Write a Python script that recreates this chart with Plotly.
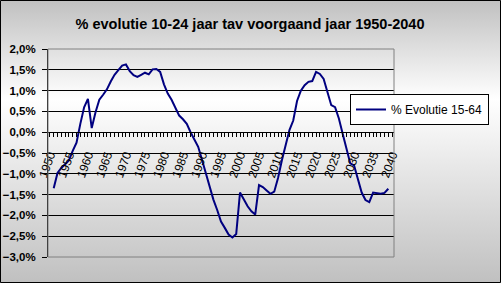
import base64
import plotly.graph_objects as go

years = list(range(1951, 2040))
evolutie_15_64 = [
    -1.35, -0.98, -0.86, -0.78, -0.68, -0.45, -0.25, 0.20, 0.60, 0.80,   # 1951-1960
    0.10, 0.48, 0.78, 0.90, 1.03, 1.22, 1.38, 1.49, 1.60, 1.63,          # 1961-1970
    1.47, 1.37, 1.33, 1.38, 1.43, 1.39, 1.51, 1.52, 1.45, 1.15,          # 1971-1980
    0.93, 0.78, 0.58, 0.40, 0.31, 0.20, 0.00, -0.18, -0.35, -0.66,       # 1981-1990
    -0.98, -1.35, -1.62, -1.87, -2.15, -2.30, -2.46, -2.53, -2.45, -1.45, # 1991-2000
    -1.62, -1.78, -1.90, -1.98, -1.27, -1.32, -1.40, -1.48, -1.43, -1.10, # 2001-2010
    -0.68, -0.32, 0.05, 0.28, 0.75, 1.00, 1.13, 1.21, 1.23, 1.45,        # 2011-2020
    1.40, 1.28, 0.98, 0.65, 0.60, 0.33, -0.04, -0.43, -0.75, -0.80,      # 2021-2030
    -1.12, -1.45, -1.63, -1.68, -1.45, -1.47, -1.48, -1.46, -1.36,       # 2031-2039
]
tick_years = list(range(1950, 2041))
tick_labels = [str(y) if y % 5 == 0 else "" for y in tick_years]
series_name = "% Evolutie 15-64"
title_text = "% evolutie 10-24 jaar tav voorgaand jaar 1950-2040"

W, H = 501, 283
L, R, T, B = 48, 107, 49, 26
pw, ph = W - L - R, H - T - B

svg = (
    f'<svg xmlns="http://www.w3.org/2000/svg" width="{W}" height="{H}" preserveAspectRatio="none">'
    '<defs><linearGradient id="g" x1="0" y1="0" x2="0" y2="1">'
    '<stop offset="0" stop-color="#c0c0c0"/><stop offset="0.35" stop-color="#ffffff"/>'
    '<stop offset="1" stop-color="#c0c0c0"/></linearGradient></defs>'
    f'<rect width="{W}" height="{H}" fill="url(#g)"/></svg>'
)
src = "data:image/svg+xml;base64," + base64.b64encode(svg.encode()).decode()

fig = go.Figure()
fig.add_trace(go.Scatter(x=years, y=evolutie_15_64, mode="lines", name=series_name,
                         line=dict(color="#000080", width=2)))

fig.update_layout(
    width=W, height=H,
    margin=dict(l=L, r=R, t=T, b=B, autoexpand=False),
    paper_bgcolor="#c0c0c0",
    plot_bgcolor="#c0c0c0",
    separators=",.",
    font=dict(family="Liberation Sans, Arial", color="black"),
    title=dict(text=title_text, x=250 / W, xanchor="center", y=1 - 24 / H, yanchor="middle",
               font=dict(size=14.5, weight="bold", family="Liberation Sans, Arial")),
    showlegend=True,
    legend=dict(x=(350 - L) / pw, y=(H - B - 94) / ph, xanchor="left", yanchor="top",
                bgcolor="white", bordercolor="black", borderwidth=1,
                font=dict(size=12, family="Liberation Sans, Arial"),
                tracegroupgap=0),
    images=[dict(source=src, xref="paper", yref="paper", x=-L / pw, y=1 + T / ph,
                 sizex=W / pw, sizey=H / ph, xanchor="left", yanchor="top",
                 sizing="stretch", layer="below")],
    shapes=[
        dict(type="rect", xref="paper", yref="paper", x0=0, x1=1, y0=0, y1=1,
             line=dict(color="#808080", width=1), layer="above"),
        dict(type="rect", xref="paper", yref="paper",
             x0=(0.5 - L) / pw, x1=(W - 0.5 - L) / pw,
             y0=-(B - 0.5) / ph, y1=1 + (T - 0.5) / ph,
             line=dict(color="black", width=1), layer="above"),
    ],
)
fig.update_yaxes(range=[-3, 2], dtick=0.5, tick0=0, tickformat=".1f", ticksuffix="%",
                 showline=True, linecolor="black", linewidth=1, automargin=False,
                 ticks="outside", ticklen=5, tickcolor="black", ticklabelstandoff=4,
                 showgrid=True, gridcolor="black", gridwidth=1, zeroline=False,
                 tickfont=dict(size=11.5, weight="bold", family="Liberation Sans, Arial"))
fig.update_xaxes(range=[1949.5, 2040.5], anchor="free", position=0.6, automargin=False,
                 tickmode="array", tickvals=tick_years, ticktext=tick_labels,
                 tickangle=-70, showline=True, linecolor="black", linewidth=1,
                 ticks="outside", ticklen=4, tickcolor="black", ticklabelstandoff=6,
                 showgrid=False, zeroline=False,
                 tickfont=dict(size=12, family="Liberation Sans, Arial"))

fig.write_html("out.html")
